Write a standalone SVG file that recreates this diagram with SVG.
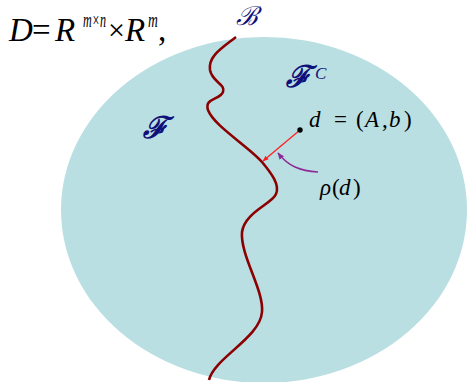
<svg xmlns="http://www.w3.org/2000/svg" width="467" height="382" viewBox="0 0 467 382">
<style>
.t{font-family:"Liberation Serif","Times New Roman",serif;fill:#000}
.i{font-style:italic}
.s{font-family:"DejaVu Serif",serif;fill:#10107a;font-style:italic;font-weight:bold}
</style>
<defs>
<marker id="ar" viewBox="0 0 10 10" refX="9" refY="5" markerWidth="6" markerHeight="6" orient="auto" markerUnits="userSpaceOnUse"><path d="M0,1 L10,5 L0,9 z" fill="#ff2020"/></marker>
<marker id="ap" viewBox="0 0 10 10" refX="9" refY="5" markerWidth="7" markerHeight="7" orient="auto" markerUnits="userSpaceOnUse"><path d="M0,1 L10,5 L0,9 z" fill="#8e2a96"/></marker>
</defs>
<rect width="467" height="382" fill="#fff"/>
<g id="region"><ellipse cx="264" cy="210" rx="203" ry="173" fill="#b9dfe3"/></g>
<g id="boundary"><path d="M236,37 C222,48 208,56 210,70 C212,82 226,84 223,92 C220,100 204,98 208,110 C214,126 248,146 262,162 C272,174 280,185 276,194 C272,204 245,212 242,232 C240,255 264,290 262,312 C260,338 214,358 209,380" fill="none" stroke="#8b0000" stroke-width="2.6"/></g>
<g id="connectors">
<line x1="300" y1="130" x2="263" y2="161" stroke="#ff2020" stroke-width="1.3" marker-end="url(#ar)"/>
<path d="M318,172 C300,171 288,166 278,153" fill="none" stroke="#8e2a96" stroke-width="1.4" marker-end="url(#ap)"/>
</g>
<g id="point"><circle cx="300" cy="130" r="2.7" fill="#000"/></g>
<g id="formula">
<text class="t" font-size="33" y="41"><tspan class="i" x="9">D</tspan><tspan x="32">=</tspan><tspan class="i" x="55">R</tspan></text>
<text class="t i" font-size="22" transform="translate(83,27) scale(0.55,1)">m×n</text>
<text class="t" font-size="30" x="108" y="40">×</text>
<text class="t i" font-size="33" x="125" y="41">R</text>
<text class="t i" font-size="22" transform="translate(148,27) scale(0.62,1)">m</text>
<text class="t" font-size="33" x="158" y="41">,</text>
</g>
<g id="label-B"><text class="s" font-weight="normal" style="font-weight:normal" font-size="26" x="236" y="25">ℬ</text></g>
<g id="label-F"><text class="s" font-size="30" x="143" y="138">ℱ</text></g>
<g id="label-FC"><text class="s" font-size="30" x="286" y="87">ℱ</text><text class="t i" font-size="17" x="315" y="79" style="fill:#10107a">C</text></g>
<g id="label-d"><text class="t" font-size="23" y="127"><tspan class="i" x="309">d</tspan><tspan x="334">=</tspan><tspan x="356">(</tspan><tspan class="i" x="365">A</tspan><tspan x="382">,</tspan><tspan class="i" x="389">b</tspan><tspan x="404">)</tspan></text></g>
<g id="label-rho"><text class="t" font-size="23" y="195"><tspan class="i" x="320">ρ</tspan><tspan x="332">(</tspan><tspan class="i" x="339">d</tspan><tspan x="353">)</tspan></text></g>
</svg>
